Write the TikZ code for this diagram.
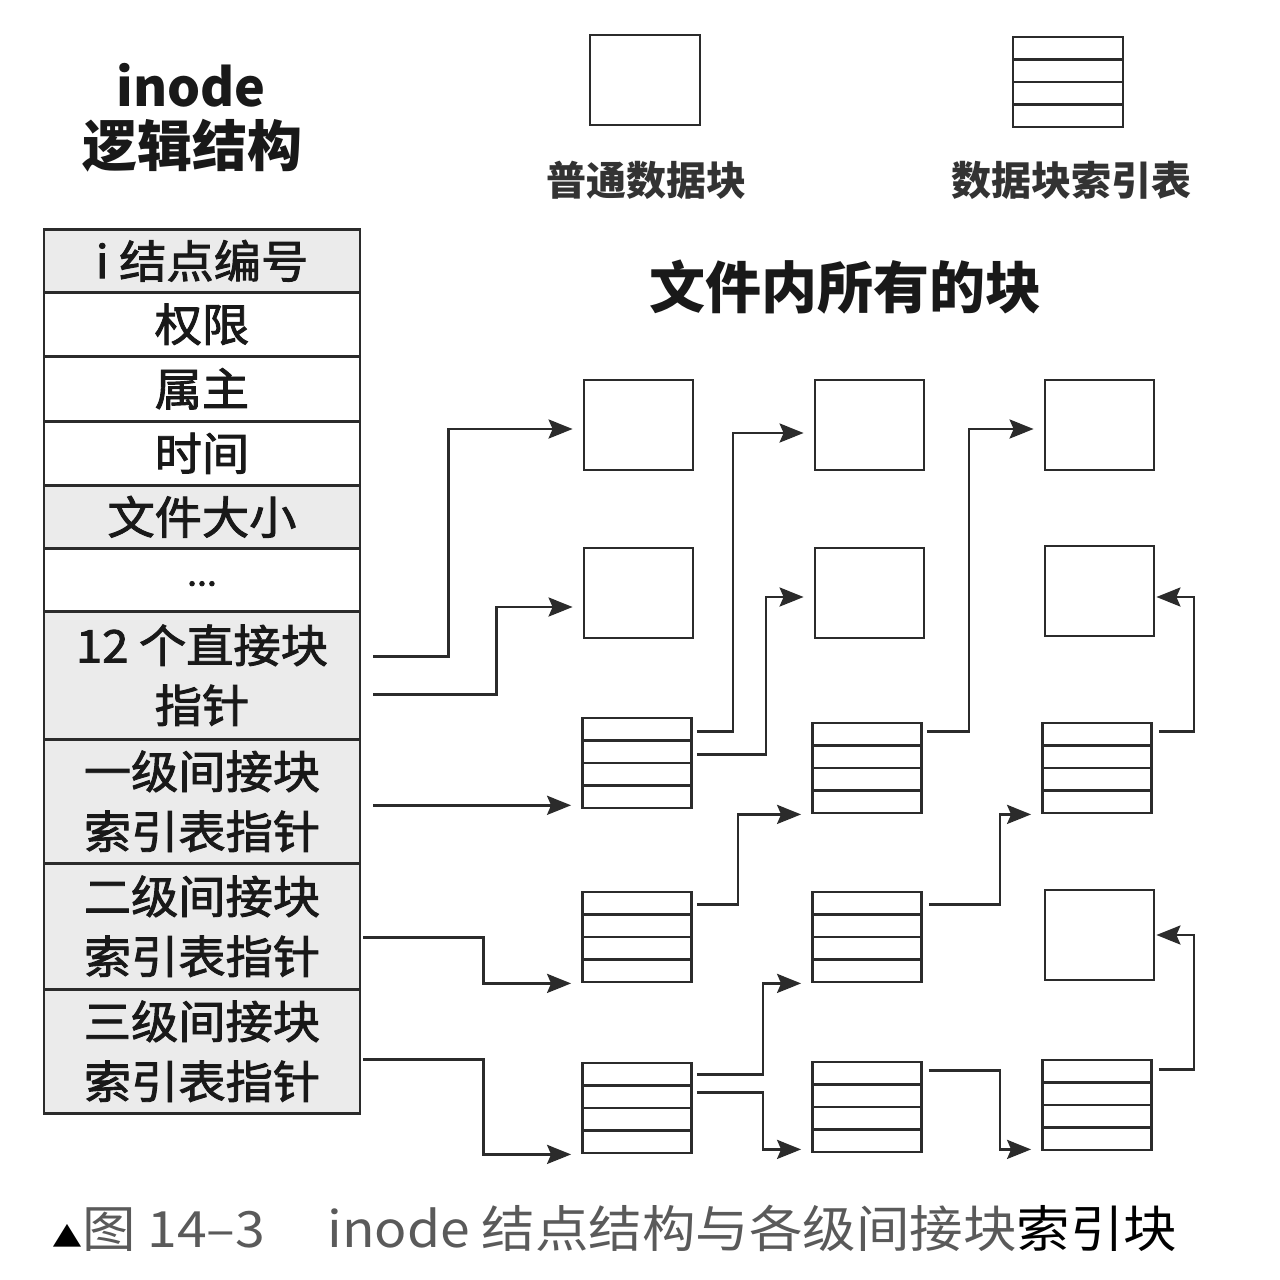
\documentclass[tikz,border=0pt]{standalone}
\usepackage{fontspec}
\newfontfamily\cjk{Noto Sans CJK SC}
\newfontfamily\cjkm{Noto Sans CJK SC}[FakeBold=2,FakeStretch=1.05]
\newfontfamily\capfont{Noto Sans CJK SC}[FakeStretch=1.07]
\usetikzlibrary{arrows.meta,calc}
\definecolor{ln}{HTML}{2B2B2B}
\definecolor{cellgray}{HTML}{EBEBEB}
\definecolor{capgray}{HTML}{5A5A5A}
\begin{document}
\begin{tikzpicture}[x=1pt,y=-1pt,
  blk/.style={draw=ln, line width=2.8pt, minimum width=109pt, minimum height=90pt, inner sep=0pt, fill=white},
  idx/.style={blk, path picture={
      \foreach \f in {0.25,0.5,0.75}{
        \draw[ln, line width=2.6pt]
          ($(path picture bounding box.north west)!\f!(path picture bounding box.south west)$) --
          ($(path picture bounding box.north east)!\f!(path picture bounding box.south east)$);}}},
  cell/.style={draw=ln, line width=2.6pt, minimum width=316pt, inner sep=0pt, anchor=north,
      font=\cjkm\fontsize{45}{60}\selectfont, align=center, text=black!90, fill=white},
  gcell/.style={cell, fill=cellgray},
  arr/.style={draw=ln, line width=2.8pt, -{Stealth[length=24pt,width=19pt,inset=4pt]}, shorten >=10pt},
  back/.style={arr, shorten >=1pt},
  title/.style={font=\cjk\bfseries\fontsize{52}{60}\selectfont, text=black!90},
  lbl/.style={font=\cjk\bfseries\fontsize{40}{48}\selectfont, text=black!80}
]
\useasboundingbox[fill=white] (0,0) rectangle (1280,1280);

% titles
\node[title] (t1) at (191,85) {inode};
\node[title, font=\cjk\bfseries\fontsize{55}{60}\selectfont] (t2) at (192,146) {逻辑结构};

% legend
\node[blk, minimum width=110pt] (lgA) at (645,80) {};
\node[idx, minimum width=110pt, line width=2.4pt] (lgB) at (1068,82) {};
\node[lbl] (lgAt) at (646,180) {普通数据块};
\node[lbl] (lgBt) at (1071,180) {数据块索引表};
\node[title, font=\cjk\bfseries\fontsize{56}{60}\selectfont] (t3) at (845,287) {文件内所有的块};

% inode table
\node[gcell, minimum height=63pt] (r1) at (202,228) {i 结点编号};
\node[cell, minimum height=64pt] (r2) at (202,291) {权限};
\node[cell, minimum height=65pt] (r3) at (202,355) {属主};
\node[cell, minimum height=64pt] (r4) at (202,420) {时间};
\node[gcell, minimum height=63pt] (r5) at (202,484) {文件大小};
\node[cell, minimum height=63pt] (r6) at (202,547) {\raisebox{-12pt}{\fontsize{34}{34}\selectfont ...}};
\node[gcell, minimum height=128pt] (r7) at (202,610) {12 个直接块\\指针};
\node[gcell, minimum height=124pt] (r8) at (202,738) {一级间接块\\索引表指针};
\node[gcell, minimum height=126pt] (r9) at (202,862) {二级间接块\\索引表指针};
\node[gcell, minimum height=124pt] (r10) at (202,988) {三级间接块\\索引表指针};

% blocks
\node[blk] (n11) at (638.5,425) {};
\node[blk] (n12) at (869.5,425) {};
\node[blk] (n13) at (1099.5,425) {};
\node[blk] (n21) at (638.5,593) {};
\node[blk] (n22) at (869.5,593) {};
\node[blk] (n23) at (1099.5,591) {};
\node[idx] (n31) at (637,763) {};
\node[idx] (n32) at (867,768) {};
\node[idx] (n33) at (1097,768) {};
\node[idx] (n41) at (637,937) {};
\node[idx] (n42) at (867,937) {};
\node[blk] (n43) at (1099.5,935) {};
\node[idx] (n51) at (637,1108) {};
\node[idx] (n52) at (867,1107) {};
\node[idx] (n53) at (1097,1105) {};

% connector start points
\coordinate (s1) at ($(r7.east)+(12,-19)$);
\coordinate (s2) at ($(r7.east)+(12,19)$);
\coordinate (s3) at ($(r8.east)+(12,4)$);
\coordinate (s4) at ($(r9.east)+(2,11)$);
\coordinate (s5) at ($(r10.east)+(2,8)$);

% inode -> blocks
\draw[arr] (s1) -- ++(75,0) |- ($(n11.west)+(0,4)$);
\draw[arr] (s2) -- ++(123,0) |- ($(n21.west)+(0,14)$);
\draw[arr] (s3) -- (s3 -| n31.west);
\draw[arr] (s4) -- ++(120,0) |- (n41.south west);
\draw[arr] (s5) -- ++(120,0) |- (n51.south west);

% level links
\draw[arr] ($(n31.north east)+(4,15)$) -- ++(36,0) |- ($(n12.west)+(0,8)$);
\draw[arr] ($(n31.north east)+(4,38)$) -- ++(69,0) |- ($(n22.west)+(0,4)$);
\draw[arr] ($(n41.north east)+(4,14)$) -- ++(41,0) |- (n32.south west);
\draw[arr] ($(n51.north east)+(4,13)$) -- ++(66,0) |- (n42.south west);
\draw[arr] ($(n51.north east)+(4,31)$) -- ++(66,0) |- ($(n52.south west)+(0,-4)$);
\draw[arr] ($(n32.north east)+(4,10)$) -- ++(42,0) |- ($(n13.west)+(0,4)$);
\draw[back] ($(n33.north east)+(6,10)$) -- ++(35,0) |- ($(n23.east)+(0,6)$);
\draw[arr] ($(n42.north east)+(6,14)$) -- ++(71,0) |- (n33.south west);
\draw[arr] ($(n52.north east)+(6,10)$) -- ++(71,0) |- ($(n53.south west)+(0,-2)$);
\draw[back] ($(n53.north east)+(6,11)$) -- ++(35,0) |- (n43.east);

% caption
\node[anchor=west, font=\capfont\fontsize{50}{54}\selectfont, text=capgray, inner sep=0pt] (cap) at (52,1228)
  {{\color{black}\fontsize{28}{28}\selectfont ▲}图 14–3\hspace{62pt}inode 结点结构与各级间接块{\color{black}索引块}};
\end{tikzpicture}
\end{document}
